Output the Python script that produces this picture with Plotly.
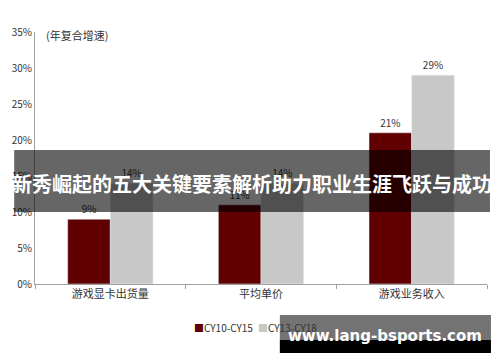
import plotly.graph_objects as go

categories = ["游戏显卡出货量", "平均单价", "游戏业务收入"]
series_names = ["CY10-CY15", "CY13-CY18"]
series_colors = ["#600000", "#c8c8c8"]
cy10_15 = [9, 11, 21]
cy13_18 = [14, 14, 29]
y_ticks = [0, 5, 10, 15, 20, 25, 30, 35]

W, H = 500, 362
L, R, T, B = 31, 13, 32, 78
pw, ph = W - L - R, H - T - B

def px(x):
    return (x - L) / pw

def py(y):
    return (H - B - y) / ph

fig = go.Figure()
for name, vals, col in zip(series_names, [cy10_15, cy13_18], series_colors):
    fig.add_trace(go.Bar(x=categories, y=vals, name=name, marker_color=col,
                         text=[f"{v}%" for v in vals], textposition="outside",
                         textfont=dict(size=10, color="#333333"), cliponaxis=False))

fig.update_layout(
    width=W, height=H, margin=dict(l=L, r=R, t=T, b=B),
    paper_bgcolor="white", plot_bgcolor="white",
    barmode="group", bargap=0.434, bargroupgap=0,
    font=dict(family="Noto Sans CJK SC, sans-serif", color="#333333"),
    showlegend=False,
    xaxis=dict(showline=True, linecolor="#a0a0a0", linewidth=1, ticks="outside",
               tickson="boundaries", ticklen=4, tickcolor="#a0a0a0",
               tickfont=dict(size=11, color="#333333"), showgrid=False),
    yaxis=dict(range=[0, 35], tickvals=y_ticks, ticktext=[f"{v}%" for v in y_ticks],
               showline=True, linecolor="#a0a0a0", linewidth=1, showgrid=False,
               zeroline=False, ticks="", tickfont=dict(size=10, color="#333333")),
)

# legend (compact, as in the reference)
legend_x = [189, 254]
for name, col, lx in zip(series_names, series_colors, legend_x):
    fig.add_annotation(text=f'<span style="color:{col}">■</span>{name}', xref="paper", yref="paper",
                       x=px(lx), y=py(327), xanchor="left", yanchor="middle", showarrow=False,
                       font=dict(size=10, color="#333333", family="Noto Sans CJK SC"))

fig.add_annotation(text="(年复合增速)", xref="paper", yref="paper", x=px(40), y=py(35),
                   xanchor="left", yanchor="middle", showarrow=False,
                   font=dict(size=11, color="#333333"))

# overlay banner
fig.add_shape(type="rect", xref="paper", yref="paper", x0=px(10), x1=px(490), y0=py(212), y1=py(150),
              fillcolor="rgba(0,0,0,0.6)", line=dict(width=0), layer="above")
fig.add_annotation(text="<b>新秀崛起的五大关键要素解析助力职业生涯飞跃与成功</b>", xref="paper", yref="paper",
                   x=px(250), y=py(183), xanchor="center", yanchor="middle", showarrow=False,
                   font=dict(size=20, color="white", family="Noto Sans CJK SC"))

# watermark box
fig.add_shape(type="rect", xref="paper", yref="paper", x0=px(278), x1=px(491), y0=py(340), y1=py(315),
              fillcolor="rgba(0,0,0,0.55)", line=dict(width=0), layer="above")
fig.add_shape(type="rect", xref="paper", yref="paper", x0=px(278), x1=px(491), y0=py(353), y1=py(340),
              fillcolor="black", line=dict(width=0), layer="above")
fig.add_annotation(text="<b>www.lang-bsports.com</b>", xref="paper", yref="paper",
                   x=px(384), y=py(336), xanchor="center", yanchor="middle", showarrow=False,
                   font=dict(size=15, color="white", family="DejaVu Sans"))

fig.write_html("out.html")
